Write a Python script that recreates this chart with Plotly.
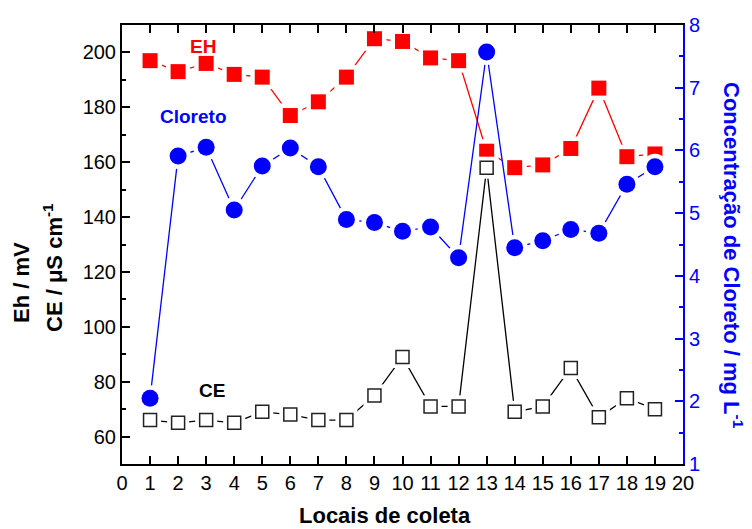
import plotly.graph_objects as go

locais = list(range(1, 20))
eh = [197, 193, 196, 192, 191, 177, 182, 191, 205, 204, 198, 197, 164, 158, 159, 165, 187, 162, 163]
ce = [66, 65, 66, 65, 69, 68, 66, 66, 75, 89, 71, 71, 158, 69, 71, 85, 67, 74, 70]
cloreto = [2.05, 5.91, 6.05, 5.05, 5.75, 6.04, 5.74, 4.90, 4.85, 4.71, 4.78, 4.29, 7.57,
           4.45, 4.56, 4.74, 4.68, 5.46, 5.74]

FONT = "Arial, Liberation Sans, sans-serif"
RED = "#ff0000"
BLUE = "#0000ff"

fig = go.Figure()

def add_series(y, color, symbol, size, fill, yaxis, line_color=None, mline=0):
    fig.add_trace(go.Scatter(x=locais, y=y, mode="lines", yaxis=yaxis,
                             line=dict(color=color, width=1.3), hoverinfo="skip",
                             showlegend=False))
    fig.add_trace(go.Scatter(x=locais, y=y, mode="markers", yaxis=yaxis,
                             marker=dict(symbol=symbol, size=size + 9, color="white",
                                         line=dict(width=0)),
                             hoverinfo="skip", showlegend=False))
    fig.add_trace(go.Scatter(x=locais, y=y, mode="markers", yaxis=yaxis,
                             marker=dict(symbol=symbol, size=size, color=fill,
                                         line=dict(color=line_color or fill, width=mline)),
                             showlegend=False))

add_series(eh, RED, "square", 15, RED, "y")
add_series(cloreto, BLUE, "circle", 17, BLUE, "y2")
add_series(ce, "#000000", "square", 13, "white", "y", line_color="#222222", mline=1.5)

axis_font = dict(family=FONT, size=20, color="black")

fig.update_layout(
    width=752, height=529,
    margin=dict(l=122, r=69, t=25, b=65),
    paper_bgcolor="white", plot_bgcolor="white",
    font=dict(family=FONT, size=20, color="black"),
    xaxis=dict(range=[0, 20], tick0=0, dtick=1, ticks="inside", ticklen=8,
               tickwidth=1.5, tickcolor="black", showline=True, linecolor="black",
               linewidth=2, mirror="ticks", showgrid=False, zeroline=False,
               tickfont=axis_font),
    yaxis=dict(range=[50, 210], tick0=0, dtick=20, ticks="inside", ticklen=8,
               tickwidth=1.5, tickcolor="black", showline=True, linecolor="black",
               linewidth=2, showgrid=False, zeroline=False, tickfont=axis_font,
               minor=dict(dtick=10, ticks="inside", ticklen=4, tickcolor="black",
                          tickwidth=1.5)),
    yaxis2=dict(range=[1, 8], tick0=0, dtick=1, overlaying="y", side="right",
                ticks="inside", ticklen=8, tickwidth=1.5, tickcolor=BLUE,
                showline=True, linecolor=BLUE, linewidth=2, showgrid=False,
                zeroline=False, tickfont=dict(family=FONT, size=20, color=BLUE),
                minor=dict(dtick=0.5, ticks="inside", ticklen=4, tickcolor=BLUE,
                           tickwidth=1.5)),
)

def px_x(px):
    return (px - 122) / 561.0

def px_y(py):
    return (464 - py) / 439.0

def ann(text, x, y, size, color, angle=0, xref="paper", yref="paper"):
    return dict(text=text, x=x, y=y, xref=xref, yref=yref, showarrow=False,
                xanchor="center", yanchor="middle", textangle=angle,
                font=dict(family=FONT, size=size, color=color))

annotations = [
    ann("<b>EH</b>", 2.89, 202.1, 19, RED, xref="x", yref="y"),
    ann("<b>Cloreto</b>", 2.55, 176.6, 19, BLUE, xref="x", yref="y"),
    ann("<b>CE</b>", 3.2, 76.7, 19, "black", xref="x", yref="y"),
    ann("<b>Locais de coleta</b>", px_x(385), px_y(515), 22, "black"),
    ann("<b>Eh / mV</b>", px_x(21), px_y(283), 22, "black", -90),
    ann("<b>CE / μS cm<sup>-1</sup></b>", px_x(53), px_y(268), 22, "black", -90),
    ann("<b>Concentração de Cloreto / mg L<sup>-1</sup></b>", px_x(733), px_y(255),
        22, BLUE, 90),
]
fig.update_layout(annotations=annotations)

fig.write_html("out.html")
